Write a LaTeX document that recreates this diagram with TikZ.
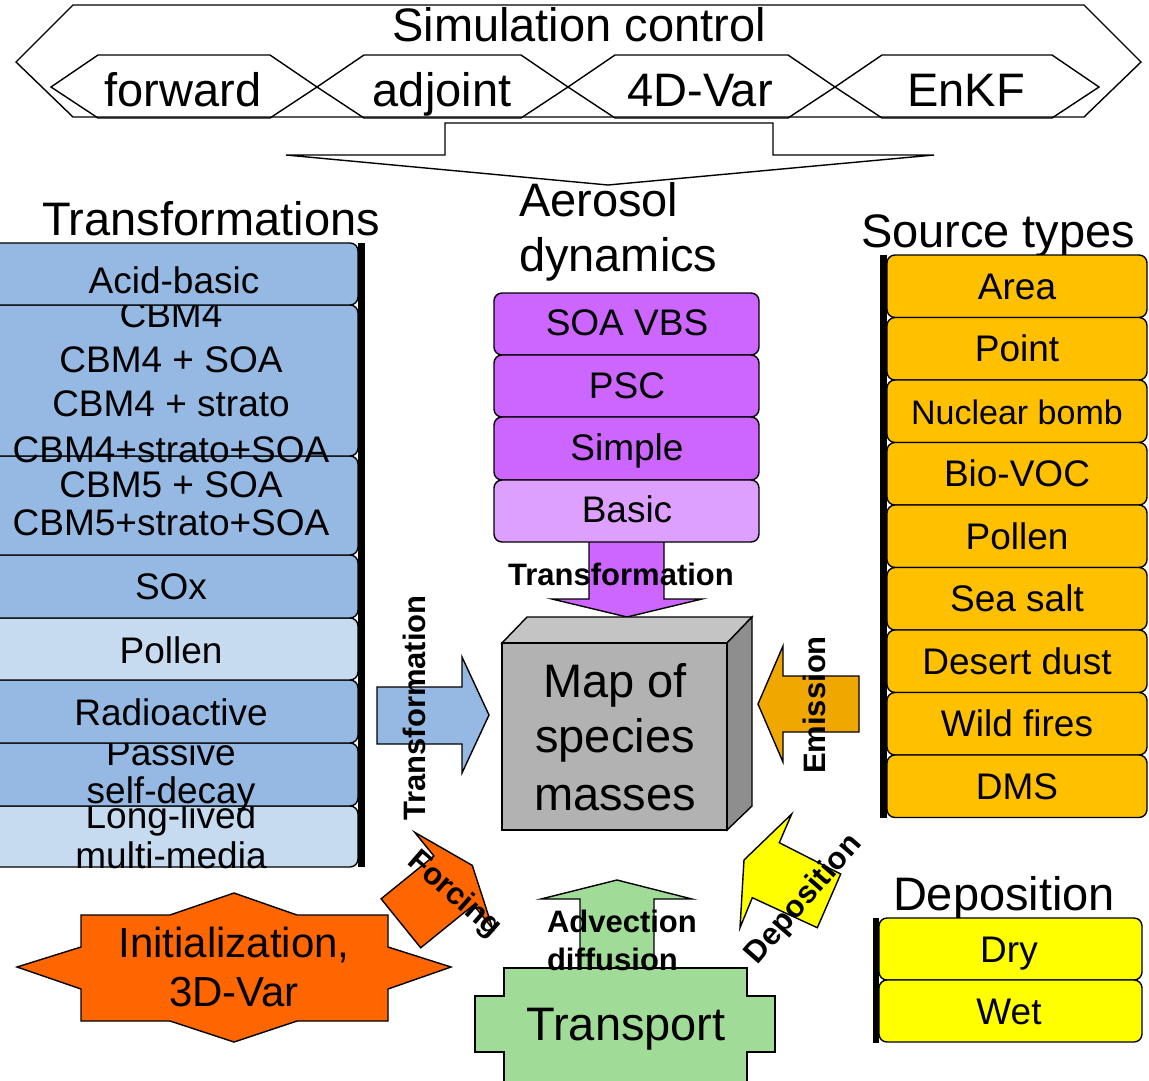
\documentclass[tikz,border=0pt]{standalone}
\usepackage{fontspec}
\setmainfont{Liberation Sans}
\definecolor{bdark}{HTML}{95B9E3}
\definecolor{blight}{HTML}{C6DAF0}
\definecolor{purp}{HTML}{CC66FF}
\definecolor{purpl}{HTML}{DDA0FF}
\definecolor{gold}{HTML}{FFC000}
\definecolor{emis}{HTML}{F0A800}
\definecolor{orng}{HTML}{FF6600}
\definecolor{grn}{HTML}{A0DC98}
\definecolor{yel}{HTML}{FFFF00}
\definecolor{cfront}{HTML}{B2B2B2}
\definecolor{ctop}{HTML}{C4C4C4}
\definecolor{cside}{HTML}{8E8E8E}
\begin{document}
\begin{tikzpicture}[x=1pt,y=-1pt,
  shp/.style={draw=black,line width=1.4pt,line join=miter},
  bx/.style={draw=black,line width=1.4pt,rounded corners=8pt,rectangle,inner sep=0pt,outer sep=0pt,anchor=north west},
  tx/.style={inner sep=0pt,outer sep=0pt,anchor=base},
  big/.style={font=\fontsize{47}{56}\selectfont},
  mid/.style={font=\fontsize{37}{44}\selectfont},
  lab/.style={font=\bfseries\fontsize{31}{37}\selectfont},
  ini/.style={font=\fontsize{42}{50}\selectfont}]
\useasboundingbox (0,0) rectangle (1149,1080);
\clip (0,0) rectangle (1149,1080);

% ---------- simulation control ----------
\draw[shp] (16,62) -- (73,5) -- (1084,5) -- (1141,62) -- (1084,117) -- (73,117) -- cycle;
\foreach \L/\R in {51/317, 317/568, 568/835, 835/1099}
  \draw[shp] (\L,87) -- (\L+47,55) -- (\R-47,55) -- (\R,87) -- (\R-47,118) -- (\L+47,118) -- cycle;
\node[tx,big] (sc) at (579,41) {Simulation control};
\node[tx,big] (fw) at (183,106) {forward};
\node[tx,big] (adj) at (442,106) {adjoint};
\node[tx,big] (fdv) at (700,106) {4D-Var};
\node[tx,big] (enkf) at (966,106) {EnKF};
\draw[shp,fill=white] (445,123) -- (773,123) -- (773,155) -- (934,155) -- (608,185) -- (286,155) -- (445,155) -- cycle;

% ---------- titles ----------
\node[tx,big,anchor=base west] (aer1) at (519,216) {Aerosol};
\node[tx,big,anchor=base west] (aer2) at (519,271) {dynamics};
\node[tx,big,anchor=base west] (trt) at (42,235) {Transformations};
\node[tx,big,anchor=base west] (srt) at (861,247) {Source types};
\node[tx,big,anchor=base west] (dpt) at (893,910) {Deposition};

% ---------- transformations stack (drawn bottom to top) ----------
\node[bx,fill=blight,minimum width=372pt,minimum height=61pt] (L8) at (-14,806) {};
\node[tx,mid] (L8a) at (171,828) {Long-lived};
\node[tx,mid] (L8b) at (171,868) {multi-media};
\node[bx,fill=bdark,minimum width=372pt,minimum height=63pt] (L7) at (-14,743) {};
\node[tx,mid] (L7a) at (171,765) {Passive};
\node[tx,mid] (L7b) at (171,803) {self-decay};
\node[bx,fill=bdark,minimum width=372pt,minimum height=63pt] (L6) at (-14,680) {};
\node[tx,mid] (L6a) at (171,725) {Radioactive};
\node[bx,fill=blight,minimum width=372pt,minimum height=62pt] (L5) at (-14,618) {};
\node[tx,mid] (L5a) at (171,663) {Pollen};
\node[bx,fill=bdark,minimum width=372pt,minimum height=63pt] (L4) at (-14,555) {};
\node[tx,mid] (L4a) at (171,599) {SOx};
\node[bx,fill=bdark,minimum width=372pt,minimum height=99pt] (L3) at (-14,456) {};
\node[tx,mid] (L3a) at (171,497) {CBM5 + SOA};
\node[tx,mid] (L3b) at (171,535) {CBM5+strato+SOA};
\node[bx,fill=bdark,minimum width=372pt,minimum height=151pt] (L2) at (-14,305) {};
\node[tx,mid] (L2a) at (171,327) {CBM4};
\node[tx,mid] (L2b) at (171,372) {CBM4 + SOA};
\node[tx,mid] (L2c) at (171,416) {CBM4 + strato};
\node[tx,mid] (L2d) at (171,462) {CBM4+strato+SOA};
\node[bx,fill=bdark,minimum width=372pt,minimum height=62pt] (L1) at (-14,243) {};
\node[tx,mid] (L1a) at (174,293) {Acid-basic};
\fill (358,243) rectangle (365,867);

% ---------- source types stack ----------
\foreach \i/\t in {1/Area,2/Point,3/{\fontsize{34}{40}\selectfont Nuclear bomb},4/Bio-VOC,5/Pollen,6/Sea salt,7/Desert dust,8/Wild fires,9/DMS}{
  \node[bx,fill=gold,minimum width=260pt,minimum height=62.5pt] (R\i) at (887,{255+62.5*(\i-1)}) {};
  \node[tx,mid] (R\i t) at (1017,{255+62.5*(\i-1)+44}) {\t};
}
\fill (880,255) rectangle (887,817.5);

% ---------- deposition stack ----------
\node[bx,fill=yel,minimum width=263pt,minimum height=62pt] (D1) at (879,918) {};
\node[tx,mid] (D1t) at (1009,962) {Dry};
\node[bx,fill=yel,minimum width=263pt,minimum height=62pt] (D2) at (879,980) {};
\node[tx,mid] (D2t) at (1009,1024) {Wet};
\fill (873,918) rectangle (879,1043);

% ---------- aerosol dynamics stack ----------
\draw[shp,fill=purp] (589,540) -- (664,540) -- (664,599) -- (702,599) -- (627,617) -- (552,599) -- (589,599) -- cycle;
\node[bx,fill=purp,minimum width=265pt,minimum height=62pt] (P1) at (494,293) {};
\node[bx,fill=purp,minimum width=265pt,minimum height=62pt] (P2) at (494,355) {};
\node[bx,fill=purp,minimum width=265pt,minimum height=63pt] (P3) at (494,417) {};
\node[bx,fill=purpl,minimum width=265pt,minimum height=62pt] (P4) at (494,480) {};
\node[tx,mid] (P1t) at (627,335) {SOA VBS};
\node[tx,mid] (P2t) at (627,398) {PSC};
\node[tx,mid] (P3t) at (627,460) {Simple};
\node[tx,mid] (P4t) at (627,522) {Basic};

% ---------- cube ----------
\draw[shp,fill=ctop] (502,643) -- (527,617) -- (752,617) -- (727,643) -- cycle;
\draw[shp,fill=cside] (727,643) -- (752,617) -- (752,806) -- (727,830) -- cycle;
\draw[shp,fill=cfront] (502,643) rectangle (727,830);
\node[tx,big] (m1) at (615,697) {Map of};
\node[tx,big] (m2) at (615,752) {species};
\node[tx,big] (m3) at (615,810) {masses};

% ---------- block arrows ----------
\draw[shp,fill=bdark] (377,687) -- (462,687) -- (462,657) -- (489,715) -- (462,773) -- (462,744) -- (377,744) -- cycle;
\draw[shp,fill=emis] (758,704) -- (783,646) -- (783,676) -- (859,676) -- (859,732) -- (783,732) -- (783,762) -- cycle;
\draw[shp,fill=grn] (617,880) -- (692,899) -- (654,899) -- (654,970) -- (580,970) -- (580,899) -- (541,899) -- cycle;
\draw[shp,fill=yel] (791.7,814) -- (744,860) -- (740,927.7) -- (752.3,897.7) -- (817.3,927.7) -- (840.7,874) -- (779.3,842.7) -- cycle;
\draw[shp,fill=orng] (414.7,832.3) -- (472.3,865.4) -- (492.7,928.7) -- (473.5,905) -- (420.7,947.8) -- (381.1,898.8) -- (433.9,856) -- cycle;

% ---------- transport ----------
\draw[shp,fill=grn] (504,968) -- (747,968) -- (747,996) -- (775,996) -- (775,1052) -- (747,1052) -- (747,1095) -- (504,1095) -- (504,1052) -- (475,1052) -- (475,996) -- (504,996) -- cycle;
\node[tx,big] (tr) at (626,1040) {Transport};

% ---------- initialization ----------
\draw[shp,fill=orng] (81,915) -- (170,915) -- (234,893) -- (297,915) -- (388,915) -- (388,947) -- (451,967) -- (388,989) -- (388,1021) -- (297,1021) -- (234,1042) -- (170,1021) -- (81,1021) -- (81,989) -- (17,967) -- (81,947) -- cycle;
\node[tx,ini] (in1) at (234,957) {Initialization,};
\node[tx,ini] (in2) at (234,1006) {3D-Var};

% ---------- bold labels ----------
\node[tx,lab] (lt1) at (621,585) {Transformation};
\node[tx,lab,rotate=90] (lt2) at (425,708) {Transformation};
\node[tx,lab,rotate=90] (lem) at (825,705) {Emission};
\node[tx,lab,anchor=base west] (lad1) at (547,932) {Advection};
\node[tx,lab,anchor=base west] (lad2) at (547,970) {diffusion};
\node[tx,lab,rotate=49] (ldep) at (810,905) {Deposition};
\node[tx,lab,rotate=-41] (lfor) at (449,901) {Forcing};
\end{tikzpicture}
\end{document}
